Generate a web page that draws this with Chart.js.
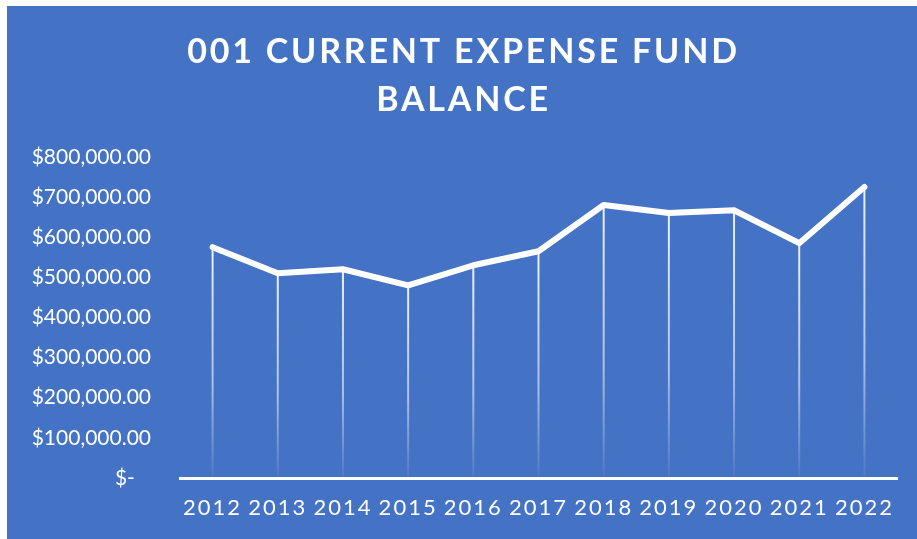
<!DOCTYPE html>
<html>
<head>
<meta charset="utf-8">
<script src="https://cdn.jsdelivr.net/npm/chart.js@4"></script>
<style>
  html, body { margin: 0; padding: 0; background: #fff; }
  #wrap { position: absolute; left: 7px; top: 6px; width: 910px; height: 533px; background: #4472C4; }
</style>
</head>
<body>
<div id="wrap"><canvas id="myChart" width="910" height="533"></canvas></div>
<script>
const years = ['2012', '2013', '2014', '2015', '2016', '2017', '2018', '2019', '2020', '2021', '2022']
const balances = [575000, 510000, 520000, 480000, 530000, 565000, 680000, 660000, 667000, 585000, 725000]
const yTicks = [0, 100000, 200000, 300000, 400000, 500000, 600000, 700000, 800000]

function money(v) {
  if (v === 0) return '$-   '
  return '$' + v.toLocaleString('en-US', { minimumFractionDigits: 2 })
}

// vertical drop lines from each point down to the axis, fading out
const dropLines = {
  id: 'dropLines',
  beforeDatasetsDraw(chart) {
    const ctx = chart.ctx
    const meta = chart.getDatasetMeta(0)
    const bottom = chart.scales.y.getPixelForValue(0)
    ctx.save()
    meta.data.forEach(pt => {
      const g = ctx.createLinearGradient(0, pt.y, 0, bottom)
      g.addColorStop(0, 'rgba(255,255,255,0.9)')
      g.addColorStop(0.6, 'rgba(255,255,255,0.55)')
      g.addColorStop(1, 'rgba(255,255,255,0.05)')
      ctx.strokeStyle = g
      ctx.lineWidth = 2
      ctx.beginPath()
      ctx.moveTo(pt.x, pt.y)
      ctx.lineTo(pt.x, bottom + 2)
      ctx.stroke()
    })
    ctx.restore()
  }
}

// letter spacing: title and x labels spaced out, y labels not
const spacing = {
  id: 'spacing',
  beforeDraw(chart) {
    chart.ctx.letterSpacing = '2.8px'
    const set = { x: '2px', y: '0px' }
    Object.keys(set).forEach(id => {
      const sc = chart.scales[id]
      if (sc._spaced) return
      const orig = sc.drawLabels.bind(sc)
      sc.drawLabels = function (area) {
        const old = this.ctx.letterSpacing
        this.ctx.letterSpacing = set[id]
        orig(area)
        this.ctx.letterSpacing = old
      }
      sc._spaced = true
    })
  },
  afterDraw(chart) { chart.ctx.letterSpacing = '0px' }
}

const ctx = document.getElementById('myChart').getContext('2d')
const myChart = new Chart(ctx, {
  type: 'line',
  data: {
    labels: years,
    datasets: [{
      label: 'Balance',
      data: balances,
      borderColor: '#ffffff',
      borderWidth: 6,
      borderCapStyle: 'round',
      borderJoinStyle: 'round',
      pointRadius: 0,
      tension: 0
    }]
  },
  options: {
    responsive: false,
    animation: false,
    layout: { padding: { left: 23, right: 20, top: 0, bottom: 0 } },
    plugins: {
      legend: { display: false },
      tooltip: { enabled: false },
      title: {
        display: true,
        text: ['001 CURRENT EXPENSE FUND', 'BALANCE'],
        color: '#ffffff',
        font: { family: 'Lato', size: 34, weight: 'bold', lineHeight: 1.41 },
        padding: { top: 22, bottom: 33 }
      }
    },
    scales: {
      x: {
        offset: true,
        grid: { display: false, drawTicks: false },
        border: { display: true, color: '#ffffff', width: 3, z: 1 },
        afterFit(axis) { axis.height = 61 },
        ticks: {
          color: '#ffffff',
          font: { family: 'Lato', size: 22 },
          padding: 17,
          maxRotation: 0,
          autoSkip: false
        }
      },
      y: {
        min: 0,
        max: 800000,
        afterBuildTicks(axis) { axis.ticks = yTicks.map(v => ({ value: v })) },
        afterFit(axis) { axis.width = 150 },
        grid: { display: false, drawTicks: false },
        border: { display: false },
        ticks: {
          color: '#ffffff',
          font: { family: 'Lato', size: 21 },
          padding: 29,
          callback: v => money(v)
        }
      }
    }
  },
  plugins: [dropLines, spacing]
})
</script>
</body>
</html>
